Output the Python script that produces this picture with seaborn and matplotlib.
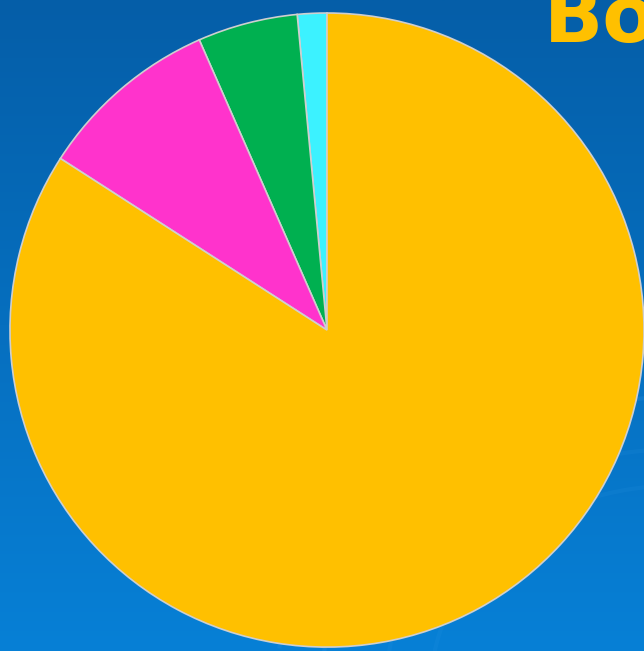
import numpy as np
import pandas as pd
import seaborn as sns
import matplotlib.pyplot as plt
from matplotlib.patches import Arc

# data (share of the whole)
labels = ["Cyan", "Green", "Magenta", "Yellow"]
shares = [1.5, 5.1, 9.3, 84.1]
colors = ["#3CF2FF", "#00B050", "#FF33CC", "#FFC000"]

df = pd.DataFrame({"label": labels, "share": shares})

sns.set_theme(style="white")

fig = plt.figure(figsize=(6.44, 6.51), dpi=100)

# blue gradient background
bg = fig.add_axes([0, 0, 1, 1])
grad = np.linspace(0, 1, 256).reshape(-1, 1)
top = np.array([0x05, 0x5E, 0xA8]) / 255
bot = np.array([0x07, 0x80, 0xD6]) / 255
img = top + grad[..., None] * (bot - top)
bg.imshow(img, aspect="auto", extent=[0, 1, 0, 1], origin="upper")
# faint swirl lines in the lower right
for r, a in [(0.55, 0.18), (0.62, 0.14), (0.45, 0.10), (0.38, 0.10)]:
    bg.add_patch(Arc((1.05, -0.05), 2 * r, 1.6 * r, theta1=95, theta2=175,
                     color="#3aa0ee", alpha=a, lw=3))
bg.set_xlim(0, 1)
bg.set_ylim(0, 1)
bg.axis("off")

# pie
ax = fig.add_axes([0.0155, 0.006, 0.9845, 0.974])
ax.pie(df["share"], colors=colors, startangle=90, counterclock=True,
       wedgeprops=dict(edgecolor="#cfcfcf", linewidth=1.2))
ax.set_xlim(-1, 1)
ax.set_ylim(-1, 1)
ax.set_aspect("auto")
ax.axis("off")

# title at top right, cropped by the edge as in the source slide
fig.text(0.845, 0.936, "Bo", color="#FFC000", fontsize=56,
         fontweight="bold", va="baseline", ha="left")

plt.savefig("out.png", dpi=100)
